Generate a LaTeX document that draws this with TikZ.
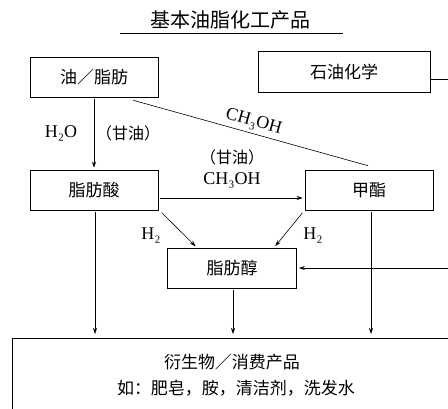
\documentclass[tikz,border=0pt]{standalone}
\usepackage{fontspec}
\setmainfont{Liberation Serif}
\newfontfamily\cjk{Noto Sans CJK SC}
\usetikzlibrary{arrows.meta}
\begin{document}
\begin{tikzpicture}[x=1pt,y=-1pt,
  box/.style={draw, line width=0.6pt, minimum width=128pt, minimum height=40pt, inner sep=0pt,
    font=\cjk\fontsize{17}{20}\selectfont},
  arr/.style={-{Stealth[length=6pt,width=4pt]}, line width=0.6pt, shorten >=2pt, shorten <=2pt},
  ln/.style={line width=0.6pt},
  lab/.style={font=\fontsize{18}{20}\selectfont, inner sep=1pt},
  clab/.style={font=\cjk\fontsize{16}{19}\selectfont, inner sep=1pt},
  txt/.style={font=\cjk\fontsize{17}{20}\selectfont, inner sep=1pt}]
\useasboundingbox (0,0) rectangle (448,409);
\clip (0,0) rectangle (448,409);
% title
\node[font=\cjk\fontsize{20}{23}\selectfont, inner sep=1pt] (title) at (230,20) {基本油脂化工产品};
\coordinate (ul1) at (120,33);
\coordinate (ul2) at (343,33);
\draw[ln] (ul1) -- (ul2);
% boxes
\node[box] (oil) at (94,77) {油／脂肪};
\node[box, minimum width=172pt, minimum height=41pt] (petro) at (344,72) {石油化学};
\node[box] (acid) at (94,190) {脂肪酸};
\node[box] (ester) at (369,190) {甲酯};
\node[box, minimum width=129pt] (alc) at (232,268) {脂肪醇};
\node[draw, line width=0.6pt, minimum width=470pt, minimum height=100pt, anchor=north west, inner sep=0pt] (prod) at (12,338) {};
\node[txt] (t1) at (232,362) {衍生物／消费产品};
\node[txt] (t2) at (236,388) {如：肥皂，胺，清洁剂，洗发水};
% right side lines
\coordinate (re1) at (452,79);
\coordinate (re2) at (452,268);
\draw[ln] ([yshift=-7pt]petro.east) -- (re1);
\draw[arr, shorten <=0pt] (re2) -- (alc.east);
% oil -> acid
\draw[arr] (oil.south) -- (acid.north);
\node[lab] (h2o) at (61,133) {H₂O};
\node[clab] (gly1) at (128,133) {（甘油）};
% oil -> ester line
\draw[ln] ([xshift=-25pt,yshift=-3pt]oil.south east) -- node[lab, midway, above=2pt, sloped] (meoh1) {CH₃OH} ([xshift=-1pt,yshift=4pt]ester.north);
% acid -> ester
\draw[arr] ([yshift=-8pt]acid.east) -- ([yshift=-8pt]ester.west);
\node[clab] (gly2) at (232,157) {（甘油）};
\node[lab] (meoh2) at (232,180) {CH₃OH};
% H2 arrows
\draw[arr] ([xshift=2pt,yshift=-1pt]acid.south east) -- ([xshift=-35pt]alc.north);
\node[lab] (h2a) at (151,235) {H₂};
\draw[arr] ([xshift=-1pt,yshift=-1pt]ester.south west) -- ([xshift=42pt]alc.north);
\node[lab] (h2b) at (313,235) {H₂};
% verticals down
\coordinate (d1) at (95,338);
\coordinate (d2) at (233,338);
\coordinate (d3) at (371,338);
\draw[arr, shorten >=4pt] ([xshift=1pt]acid.south) -- (d1);
\draw[arr, shorten >=4pt] ([xshift=1pt]alc.south) -- (d2);
\draw[arr, shorten >=4pt] ([xshift=2pt]ester.south) -- (d3);
\end{tikzpicture}
\end{document}
